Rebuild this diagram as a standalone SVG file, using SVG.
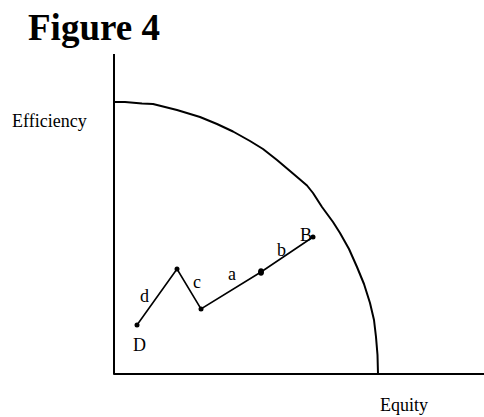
<svg xmlns="http://www.w3.org/2000/svg" width="484" height="417" viewBox="0 0 484 417">
<style>
.t{font-family:"Liberation Serif","Times New Roman",serif;font-size:18px;fill:#000}
.ln{fill:none;stroke:#000;stroke-width:2;stroke-linejoin:round}
.seg{fill:none;stroke:#000;stroke-width:1.6}
</style>
<rect width="484" height="417" fill="#fff"/>
<text x="28" y="40" font-family="Liberation Serif, Times New Roman, serif" font-size="37" font-weight="bold">Figure 4</text>
<g id="axes">
<path class="ln" d="M114,54 V374 H484"/>
</g>
<g id="frontier">
<polyline class="ln" points="114,102 125,102 142,103.5 153,104 165,107 177,110 200,117 217,124 233,131.5 250,141 263,149 277,160 290,171 300,179.5 307,185.5 313,193 322,207 333,222 340,233 349,249 357,267 364,284 370,303 374,320 376,337 377.5,355 378,374"/>
</g>
<g id="labels">
<text class="t" x="12" y="127">Efficiency</text>
<text class="t" x="380" y="411">Equity</text>
</g>
<g id="connectors">
<polyline class="seg" points="137,325 177,269 201,309 261,272 313,237"/>
</g>
<g id="node-D"><circle cx="137" cy="325" r="2.5"/><text class="t" x="133" y="351">D</text></g>
<g id="node-peak"><circle cx="177" cy="269" r="2.5"/></g>
<g id="node-valley"><circle cx="201" cy="309" r="2.5"/></g>
<g id="node-mid"><ellipse cx="261" cy="272" rx="3" ry="3.8"/></g>
<g id="node-B"><circle cx="313" cy="237" r="2.5"/><text class="t" x="300" y="241">B</text></g>
<g id="seg-labels">
<text class="t" x="140" y="302">d</text>
<text class="t" x="193" y="288">c</text>
<text class="t" x="228" y="280">a</text>
<text class="t" x="277" y="256">b</text>
</g>
</svg>
